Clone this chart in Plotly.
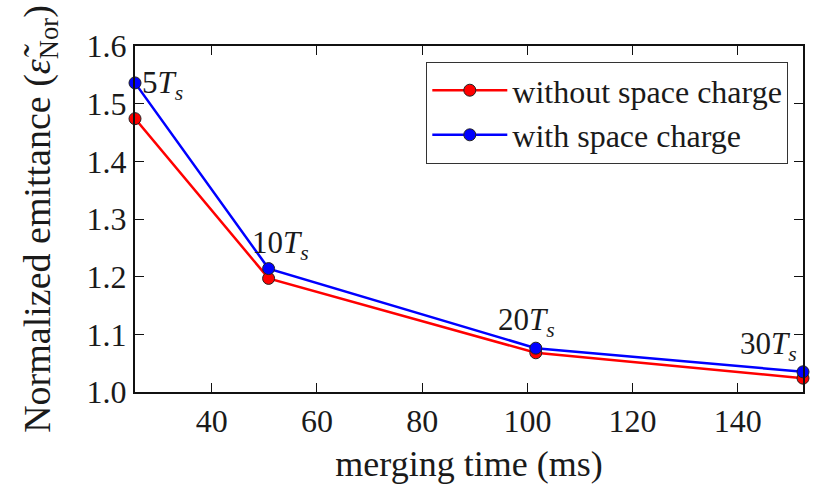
import plotly.graph_objects as go

merging_time = [25.4, 50.8, 101.6, 152.4]
without_sc = [1.474, 1.197, 1.068, 1.024]
with_sc = [1.536, 1.214, 1.076, 1.035]
labels = ["5<i>T</i><sub><i>s</i></sub>", "10<i>T</i><sub><i>s</i></sub>",
          "20<i>T</i><sub><i>s</i></sub>", "30<i>T</i><sub><i>s</i></sub>"]
x_ticks = [40, 60, 80, 100, 120, 140]
y_ticks = [1.0, 1.1, 1.2, 1.3, 1.4, 1.5, 1.6]

FONT = "Liberation Serif"
TXT = "#1a1a1a"

fig = go.Figure()
fig.add_trace(go.Scatter(
    x=merging_time, y=without_sc, mode="lines+markers", name="without space charge",
    line=dict(color="#ff0000", width=2.5),
    marker=dict(color="#ff0000", size=12, line=dict(color="#222", width=1)),
    cliponaxis=False))
fig.add_trace(go.Scatter(
    x=merging_time, y=with_sc, mode="lines+markers", name="with space charge",
    line=dict(color="#0000ff", width=2.5),
    marker=dict(color="#0000ff", size=12, line=dict(color="#222", width=1)),
    cliponaxis=False))

# (xanchor, yanchor, xshift, yshift)
anchors = [("left", "middle", 5, -2), ("center", "bottom", 12, 2),
           ("center", "bottom", -9, 4), ("right", "bottom", -4, 4)]
for xv, yv, lab, (xa, ya, dx, dy) in zip(merging_time, with_sc, labels, anchors):
    fig.add_annotation(x=xv, y=yv, text=lab, showarrow=False, xanchor=xa, yanchor=ya,
                       xshift=dx, yshift=dy,
                       font=dict(family=FONT, size=31, color=TXT))

fig.update_layout(
    width=814, height=488,
    margin=dict(l=135, r=9, t=46, b=96),
    paper_bgcolor="white", plot_bgcolor="white",
    font=dict(family=FONT, size=32, color=TXT),
    showlegend=True,
    legend=dict(x=0.978, y=0.954, xanchor="right", yanchor="top",
                bordercolor="#333", borderwidth=1, bgcolor="white",
                font=dict(family=FONT, size=32, color=TXT),
                itemwidth=75, tracegroupgap=0),
    xaxis=dict(range=[25.4, 152.4], tickvals=x_ticks, ticks="inside", ticklen=9,
               tickwidth=1.2, tickcolor="#111", showline=True, linecolor="#111",
               linewidth=2, mirror="ticks", showgrid=False, zeroline=False,
               title=dict(text="merging time (ms)", font=dict(family=FONT, size=36), standoff=12),
               tickfont=dict(family=FONT, size=32)),
    yaxis=dict(range=[1.0, 1.6], tickvals=y_ticks, tickformat=".1f", ticks="inside",
               ticklen=9, tickwidth=1.2, tickcolor="#111", showline=True, linecolor="#111",
               linewidth=2, mirror="ticks", showgrid=False, zeroline=False,
               title=dict(text="Normalized emittance (<i>ε̃</i><sub>Nor</sub>)",
                          font=dict(family=FONT, size=38), standoff=24),
               tickfont=dict(family=FONT, size=32)),
)

fig.write_html("out.html")
